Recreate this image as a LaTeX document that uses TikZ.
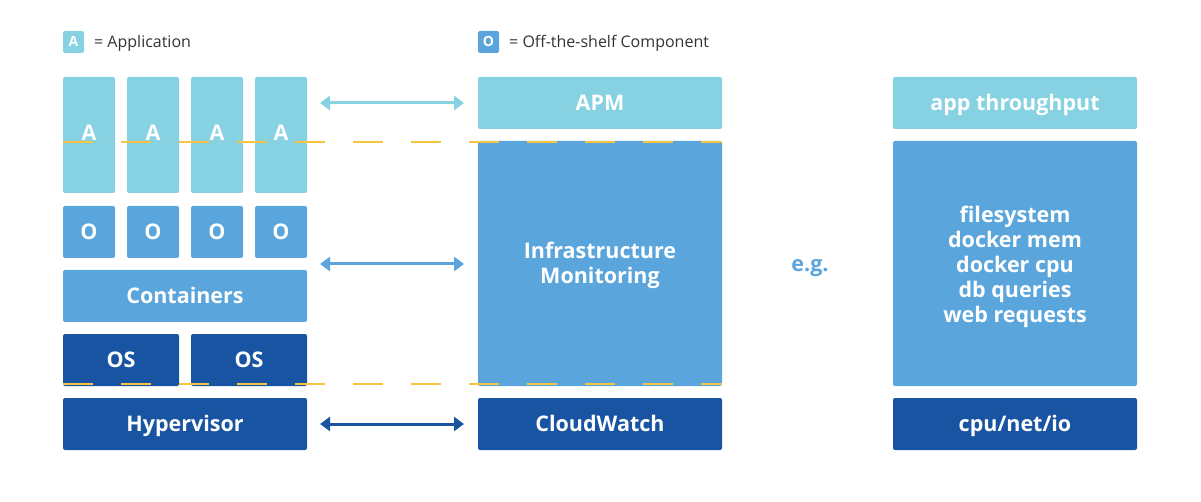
\documentclass[tikz,border=0pt]{standalone}
\usepackage{fontspec}
\setmainfont{Open Sans}
\usetikzlibrary{arrows.meta}
\definecolor{lblue}{HTML}{86D1E2}
\definecolor{mblue}{HTML}{5AA5DC}
\definecolor{dblue}{HTML}{1954A3}
\definecolor{dyel}{HTML}{F5C442}
\definecolor{txt}{HTML}{333333}
\tikzset{
  bfont/.style={font=\fontsize{21.5}{25}\selectfont\bfseries},
  blk/.style={fill=#1, rounded corners=2pt, inner sep=0pt, text=white, bfont, text height=15.3pt, text depth=0pt},
  sblk/.style={fill=#1, rounded corners=2pt, inner sep=0pt, text=white, font=\fontsize{14}{15}\selectfont\bfseries, text height=10pt, text depth=0pt, minimum width=21pt, minimum height=22pt},
  plain/.style={fill=#1, rounded corners=2pt, inner sep=0pt},
  mtxt/.style={text=white, bfont, align=center, inner sep=0pt},
  lbl/.style={text=txt, font=\fontsize{16}{18}\selectfont, anchor=west, inner sep=0pt, text height=11.4pt, text depth=0pt},
  arr/.style={draw=#1, line width=3pt, {Triangle[width=14pt,length=10pt]}-{Triangle[width=14pt,length=10pt]}},
  ydash/.style={draw=dyel, line width=2.2pt, dash pattern=on 30pt off 28pt}
}
\begin{document}
\begin{tikzpicture}[x=1pt,y=-1pt]
\useasboundingbox (0,0) rectangle (1201,502);
% legend
\node[sblk=lblue] (la) at (73.5,42) {A};
\node[lbl] (lat) at (94,42) {= Application};
\node[sblk=mblue] (lo) at (488.5,42) {O};
\node[lbl] (lot) at (509,42) {= Off-the-shelf Component};
% A columns
\foreach \i/\x in {1/63,2/127,3/191,4/255}{
  \node[plain=lblue, minimum width=52pt, minimum height=116pt] (a\i) at (\x+26,135) {};
  \node[text=white, bfont, inner sep=0pt, text height=15.3pt, text depth=0pt] (at\i) at (\x+26,133) {A};
  \node[blk=mblue, minimum width=52pt, minimum height=52pt] (o\i) at (\x+26,232) {O};
}
\node[blk=mblue, minimum width=244pt, minimum height=52pt] (cont) at (185,296) {Containers};
\node[blk=dblue, minimum width=116pt, minimum height=52pt] (os1) at (121,360) {OS};
\node[blk=dblue, minimum width=116pt, minimum height=52pt] (os2) at (249,360) {OS};
\node[blk=dblue, minimum width=244pt, minimum height=52pt] (hyp) at (185,424) {Hypervisor};
% middle
\node[blk=lblue, minimum width=244pt, minimum height=52pt] (apm) at (600,103) {APM};
\node[plain=mblue, minimum width=244pt, minimum height=245pt] (infra) at (600,263.5) {};
\node[mtxt] (infrat) at (600,265.5) {Infrastructure\\Monitoring};
\node[blk=dblue, minimum width=244pt, minimum height=52pt] (cw) at (600,424) {CloudWatch};
% right
\node[blk=lblue, minimum width=244pt, minimum height=52pt] (thr) at (1015,103) {app throughput};
\node[plain=mblue, minimum width=244pt, minimum height=245pt] (met) at (1015,263.5) {};
\node[mtxt] (mett) at (1015,266.5) {filesystem\\docker mem\\docker cpu\\db queries\\web requests};
\node[blk=dblue, minimum width=244pt, minimum height=52pt] (cpu) at (1015,424) {cpu/net/io};
\node[text=mblue, bfont, inner sep=0pt, text height=15.3pt, text depth=0pt] (eg) at (810,264) {e.g.};
% arrows
\coordinate (l1) at (320,103); \coordinate (r1) at (464,103);
\coordinate (l2) at (320,264); \coordinate (r2) at (464,264);
\coordinate (l3) at (320,424); \coordinate (r3) at (464,424);
\draw[arr=lblue] (l1) -- (r1);
\draw[arr=mblue] (l2) -- (r2);
\draw[arr=dblue] (l3) -- (r3);
% dashed lines
\coordinate (d1a) at (63,142); \coordinate (d1b) at (722,142);
\coordinate (d2a) at (63,384); \coordinate (d2b) at (722,384);
\draw[ydash] (d1a) -- (d1b);
\draw[ydash] (d2a) -- (d2b);
\end{tikzpicture}
\end{document}
